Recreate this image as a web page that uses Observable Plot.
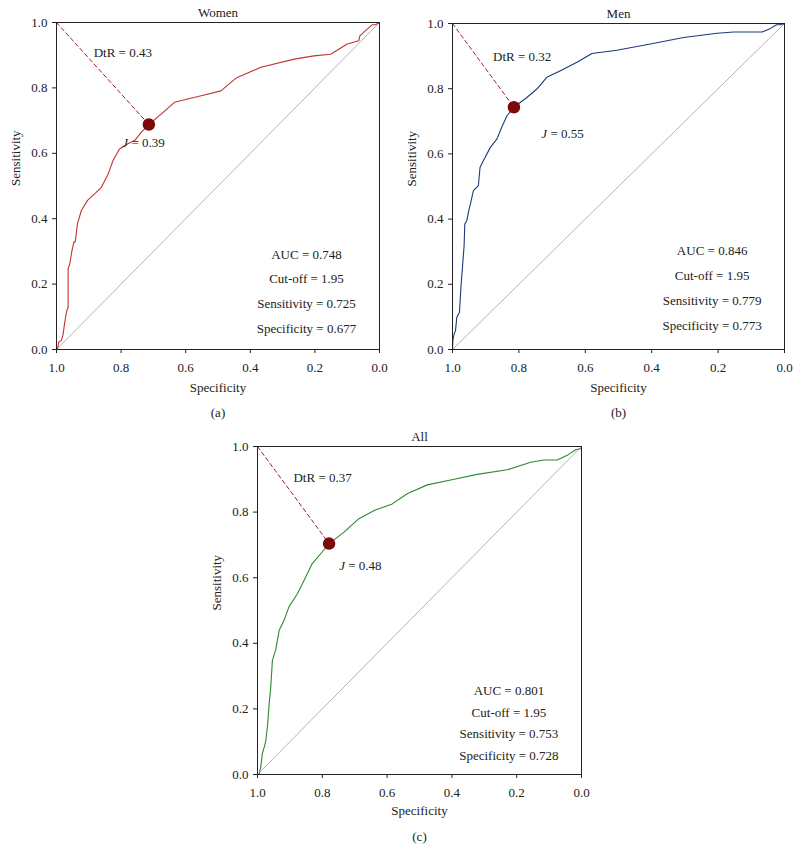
<!DOCTYPE html>
<html>
<head>
<meta charset="utf-8">
<script src="https://cdn.jsdelivr.net/npm/d3@7"></script>
<script src="https://cdn.jsdelivr.net/npm/@observablehq/plot@0.6"></script>
<style>
  html, body { margin: 0; padding: 0; background: #fff; }
  #root { position: relative; width: 800px; height: 863px; overflow: hidden; }
  .panel { position: absolute; }
  svg { overflow: visible; }
</style>
</head>
<body>
<div id="root"></div>
<script>
// ---------- DATA ----------
const panelTitles = ["Women", "Men", "All"];
const panelCaptions = ["(a)", "(b)", "(c)"];

// ROC curves: specificity, sensitivity
const womenSpec = [0.997,0.993,0.985,0.980,0.975,0.969,0.964,0.964,0.959,0.952,0.946,0.942,0.935,0.923,0.904,0.882,0.861,0.840,0.825,0.805,0.779,0.758,0.738,0.714,0.676,0.635,0.594,0.552,0.491,0.444,0.367,0.264,0.203,0.151,0.100,0.064,0.061,0.038,0.023,0.013,0.000];
const womenSens = [0.000,0.023,0.028,0.044,0.080,0.115,0.130,0.247,0.262,0.303,0.329,0.329,0.385,0.425,0.456,0.476,0.496,0.537,0.578,0.613,0.629,0.639,0.664,0.688,0.720,0.756,0.766,0.776,0.791,0.830,0.863,0.888,0.898,0.903,0.934,0.944,0.959,0.980,0.993,0.993,1.000];

const menSpec = [1.000,0.999,0.995,0.991,0.987,0.982,0.979,0.977,0.974,0.970,0.965,0.963,0.957,0.951,0.945,0.937,0.922,0.917,0.902,0.886,0.866,0.852,0.836,0.815,0.776,0.746,0.716,0.675,0.625,0.580,0.505,0.404,0.304,0.203,0.153,0.067,0.042,0.024,0.012,0.000];
const menSens = [0.000,0.028,0.048,0.058,0.099,0.109,0.114,0.150,0.201,0.252,0.319,0.385,0.395,0.426,0.451,0.487,0.503,0.559,0.589,0.620,0.646,0.681,0.717,0.743,0.773,0.799,0.835,0.855,0.881,0.908,0.918,0.937,0.957,0.970,0.974,0.974,0.985,0.996,0.996,1.000];

const allSpec = [0.995,0.990,0.985,0.979,0.974,0.969,0.964,0.959,0.954,0.944,0.933,0.918,0.903,0.877,0.856,0.831,0.805,0.779,0.733,0.687,0.640,0.584,0.538,0.476,0.404,0.322,0.229,0.157,0.116,0.075,0.044,0.018,0.000];
const allSens = [0.000,0.023,0.064,0.084,0.105,0.150,0.216,0.267,0.348,0.379,0.440,0.470,0.511,0.551,0.592,0.643,0.673,0.704,0.739,0.780,0.805,0.825,0.856,0.883,0.898,0.915,0.929,0.952,0.959,0.959,0.973,0.990,0.994];

// optimal cut-off points (specificity, sensitivity) as drawn
const optSpec = [0.714, 0.815, 0.779];
const optSens = [0.688, 0.743, 0.704];
const dtrValues = ["0.43", "0.32", "0.37"];
const jValues = ["0.39", "0.55", "0.48"];
const aucValues = ["0.748", "0.846", "0.801"];
const cutoffValues = ["1.95", "1.95", "1.95"];
const sensValues = ["0.725", "0.779", "0.753"];
const specValues = ["0.677", "0.773", "0.728"];

const chanceLine = [{spec: 1, sens: 0}, {spec: 0, sens: 1}];
const perfectPoint = {spec: 1, sens: 1};
const xTicks = [1.0, 0.8, 0.6, 0.4, 0.2, 0.0];
const yTicks = [0.0, 0.2, 0.4, 0.6, 0.8, 1.0];

// ---------- LAYOUT / STYLE ----------
const FONT = "'Liberation Serif', 'DejaVu Serif', serif";
const panels = [
  {spec: womenSpec, sens: womenSens, color: "#c4332e",
   left: 0, top: 0, width: 400, height: 425, mL: 56, mR: 21, mT: 22, mB: 76, labDy: 38, capDy: 63,
   dtrAt: [0.885, 0.908], jAt: [0.729, 0.631], statsX: 0.226, statsY: [0.291, 0.216, 0.139, 0.062]},
  {spec: menSpec, sens: menSens, color: "#1e3a78",
   left: 400, top: 0, width: 400, height: 425, mL: 52, mR: 16, mT: 23, mB: 76, labDy: 38, capDy: 63,
   dtrAt: [0.878, 0.899], jAt: [0.667, 0.661], statsX: 0.218, statsY: [0.303, 0.226, 0.148, 0.072]},
  {spec: allSpec, sens: allSens, color: "#2e8a2e",
   left: 200, top: 420, width: 400, height: 443, mL: 57, mR: 19, mT: 26, mB: 89, labDy: 36, capDy: 62,
   dtrAt: [0.889, 0.904], jAt: [0.681, 0.636], statsX: 0.224, statsY: [0.255, 0.189, 0.124, 0.058]}
];

const root = document.getElementById("root");

panels.forEach((p, i) => {
  const curve = p.spec.map((s, k) => ({spec: s, sens: p.sens[k]}));
  const opt = {spec: optSpec[i], sens: optSens[i]};
  const dtrLine = [perfectPoint, opt];
  const stats = [
    `AUC = ${aucValues[i]}`,
    `Cut-off = ${cutoffValues[i]}`,
    `Sensitivity = ${sensValues[i]}`,
    `Specificity = ${specValues[i]}`
  ].map((t, k) => ({text: t, spec: p.statsX, sens: p.statsY[k]}));

  const chart = Plot.plot({
    width: p.width,
    height: p.height,
    marginLeft: p.mL, marginRight: p.mR, marginTop: p.mT, marginBottom: p.mB,
    style: {fontFamily: FONT, fontSize: "13px", color: "#222", background: "transparent"},
    x: {domain: [1, 0], label: null},
    y: {domain: [0, 1], label: null},
    marks: [
      Plot.line(chanceLine, {x: "spec", y: "sens", stroke: "#b4b4b4", strokeWidth: 1}),
      Plot.line(curve, {x: "spec", y: "sens", stroke: p.color, strokeWidth: 1.1}),
      Plot.line(dtrLine, {x: "spec", y: "sens", stroke: "#9b2230", strokeWidth: 1, strokeDasharray: "4,3"}),
      Plot.dot([opt], {x: "spec", y: "sens", r: 5.5, fill: "#7d0a0a", stroke: "#7d0a0a"}),
      Plot.text([`DtR = ${dtrValues[i]}`], {x: () => p.dtrAt[0], y: () => p.dtrAt[1], text: d => d, textAnchor: "start", fill: "#222", fontSize: 13}),
      Plot.text(stats, {x: "spec", y: "sens", text: "text", textAnchor: "middle", fill: "#222", fontSize: 13}),
      Plot.frame({stroke: "#222", strokeWidth: 1}),
      Plot.axisX(xTicks, {anchor: "bottom", tickSize: 4, tickPadding: 9, tickFormat: d3.format(".1f"), fontSize: 13, stroke: "#222", fill: "#222"}),
      Plot.axisY(yTicks, {anchor: "left", tickSize: 4, tickPadding: 5, tickFormat: d3.format(".1f"), fontSize: 13, stroke: "#222", fill: "#222"}),
      Plot.text([panelTitles[i]], {frameAnchor: "top", lineAnchor: "middle", dy: -10, text: d => d, fontSize: 13, fill: "#222"}),
      Plot.text(["Specificity"], {frameAnchor: "bottom", lineAnchor: "middle", dy: p.labDy, text: d => d, fontSize: 13, fill: "#222"}),
      Plot.text([panelCaptions[i]], {frameAnchor: "bottom", lineAnchor: "middle", dy: p.capDy, text: d => d, fontSize: 13, fill: "#222"}),
      Plot.text(["Sensitivity"], {frameAnchor: "left", dx: -41, rotate: -90, text: d => d, fontSize: 13, fill: "#222"})
    ]
  });

  // Youden's J label with italic J (real text inside the SVG)
  const svg = chart.tagName.toLowerCase() === "svg" ? chart : chart.querySelector("svg");
  const xs = d3.scaleLinear().domain([1, 0]).range([p.mL, p.width - p.mR]);
  const ys = d3.scaleLinear().domain([0, 1]).range([p.height - p.mB, p.mT]);
  const jText = d3.select(svg).append("text")
    .attr("x", xs(p.jAt[0])).attr("y", ys(p.jAt[1]))
    .attr("dy", "0.32em")
    .attr("font-family", FONT).attr("font-size", 13).attr("fill", "#222");
  jText.append("tspan").attr("font-style", "italic").text("J");
  jText.append("tspan").text(` = ${jValues[i]}`);

  const wrap = document.createElement("div");
  wrap.className = "panel";
  wrap.style.left = p.left + "px";
  wrap.style.top = p.top + "px";
  wrap.appendChild(chart);
  root.appendChild(wrap);
});
</script>
</body>
</html>
